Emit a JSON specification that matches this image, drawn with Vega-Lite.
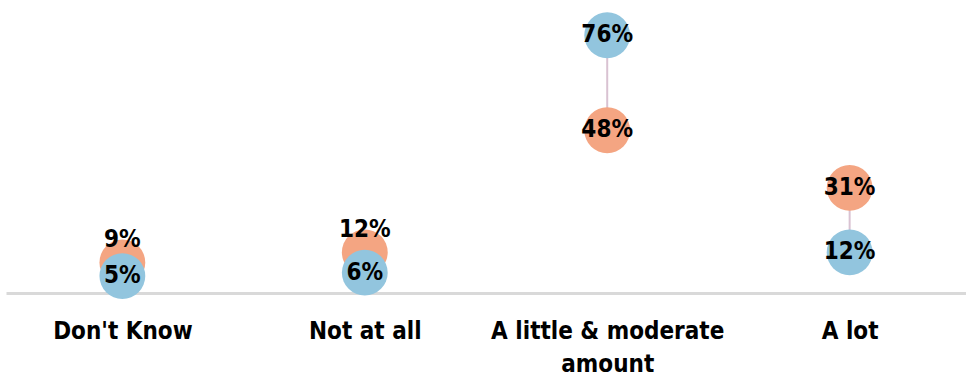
{
  "$schema": "https://vega.github.io/schema/vega-lite/v6.json",
  "width": 960,
  "height": 293,
  "padding": {"left": 6, "top": 0, "right": 0, "bottom": 0},
  "background": "white",
  "config": {"view": {"stroke": null}},
  "data": {
    "values": [
      {"category": "Don't Know", "group": "Orange", "value": 0.09},
      {"category": "Not at all", "group": "Orange", "value": 0.12},
      {"category": "A little & moderate amount", "group": "Orange", "value": 0.48},
      {"category": "A lot", "group": "Orange", "value": 0.31},
      {"category": "Don't Know", "group": "Blue", "value": 0.05},
      {"category": "Not at all", "group": "Blue", "value": 0.06},
      {"category": "A little & moderate amount", "group": "Blue", "value": 0.76},
      {"category": "A lot", "group": "Blue", "value": 0.12}
    ]
  },
  "encoding": {
    "x": {
      "field": "category",
      "type": "nominal",
      "sort": null,
      "scale": {"type": "point", "padding": 0.48},
      "axis": {
        "title": null,
        "labelAngle": 0,
        "ticks": false,
        "grid": false,
        "domainColor": "#d9d9d9",
        "domainWidth": 3,
        "labelFont": "'DejaVu Sans Condensed', 'DejaVu Sans', sans-serif",
        "labelFontWeight": "bold",
        "labelFontSize": 24,
        "labelColor": "#000000",
        "labelPadding": 26,
        "labelLineHeight": 33,
        "labelLimit": 0,
        "labelExpr": "datum.label == 'A little & moderate amount' ? ['A little & moderate', 'amount'] : datum.label"
      }
    }
  },
  "layer": [
    {
      "mark": {"type": "rule", "color": "#d9c2d2", "strokeWidth": 2},
      "encoding": {
        "y": {"aggregate": "min", "field": "value", "type": "quantitative", "scale": {"domain": [0, 0.864], "nice": false}, "axis": null},
        "y2": {"aggregate": "max", "field": "value"}
      }
    },
    {
      "mark": {"type": "circle", "opacity": 1, "size": 2100},
      "encoding": {
        "y": {"field": "value", "type": "quantitative"},
        "color": {
          "field": "group",
          "type": "nominal",
          "scale": {"domain": ["Orange", "Blue"], "range": ["#F4A582", "#92C5DE"]},
          "legend": null
        }
      }
    },
    {
      "transform": [{"filter": "!(datum.group == 'Orange' && (datum.category == \"Don't Know\" || datum.category == 'Not at all'))"}],
      "mark": {"type": "text", "font": "'DejaVu Sans Condensed', 'DejaVu Sans', sans-serif", "fontWeight": "bold", "fontSize": 24, "color": "#000000", "baseline": "middle", "align": "center"},
      "encoding": {
        "y": {"field": "value", "type": "quantitative"},
        "text": {"field": "value", "type": "quantitative", "format": ".0%"}
      }
    },
    {
      "transform": [{"filter": "datum.group == 'Orange' && (datum.category == \"Don't Know\" || datum.category == 'Not at all')"}],
      "mark": {"type": "text", "font": "'DejaVu Sans Condensed', 'DejaVu Sans', sans-serif", "fontWeight": "bold", "fontSize": 24, "color": "#000000", "baseline": "middle", "align": "center", "dy": -22},
      "encoding": {
        "y": {"field": "value", "type": "quantitative"},
        "text": {"field": "value", "type": "quantitative", "format": ".0%"}
      }
    }
  ]
}
